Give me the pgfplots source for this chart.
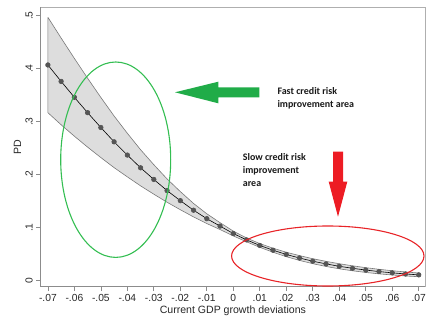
\documentclass[border=0pt]{standalone}
\usepackage{pgfplots}
\pgfplotsset{compat=1.18}
\usepackage{fontspec}
\setmainfont{Liberation Sans}
\newfontfamily\calib{Carlito}
\definecolor{bandfill}{RGB}{221,221,221}
\definecolor{bandedge}{RGB}{120,120,120}
\definecolor{markc}{RGB}{85,85,85}
\definecolor{gell}{RGB}{52,190,82}
\definecolor{garr}{RGB}{32,172,72}
\definecolor{rell}{RGB}{232,36,40}
\definecolor{rarr}{RGB}{237,28,36}
\definecolor{spine}{RGB}{140,140,140}
\definecolor{frame}{RGB}{175,175,175}
\begin{document}
\begin{tikzpicture}[x=1bp,y=1bp]
\useasboundingbox (0,0) rectangle (428,320);
\begin{axis}[
  at={(40.7bp,33.3bp)}, anchor=south west,
  scale only axis, width=384.3bp, height=279.4bp,
  xmin=-0.07271, xmax=0.07237, ymin=-0.01132, ymax=0.5158,
  axis x line*=bottom, axis y line*=left,
  axis line style={spine, line width=0.7pt},
  clip=false,
  scaled x ticks=false, scaled y ticks=false,
  tick align=outside, major tick length=4.5bp,
  tick style={spine, line width=0.7pt},
  xtick={-0.07,-0.06,-0.05,-0.04,-0.03,-0.02,-0.01,0,0.01,0.02,0.03,0.04,0.05,0.06,0.07},
  xticklabels={-.07,-.06,-.05,-.04,-.03,-.02,-.01,0,.01,.02,.03,.04,.05,.06,.07},
  ytick={0,0.1,0.2,0.3,0.4,0.5},
  yticklabels={0,.1,.2,.3,.4,.5},
  ticklabel style={font=\fontsize{10.3}{12}\selectfont, text=black!85},
  yticklabel style={rotate=90, anchor=south},
  xlabel={Current GDP growth deviations},
  ylabel={PD},
  label style={font=\fontsize{10.6}{12}\selectfont, text=black!85},
  xlabel style={at={(ticklabel cs:0.5)}, anchor=north, yshift=2.5bp},
  ylabel style={at={(ticklabel cs:0.5)}, anchor=south, rotate=0, yshift=-2.5bp},
]
\draw[frame, line width=0.7pt] (rel axis cs:0,1) -- (rel axis cs:1,1) -- (rel axis cs:1,0);
\addplot[fill=bandfill, draw=bandedge, line width=0.6pt] coordinates {
(-0.070,0.4970) (-0.065,0.4578) (-0.060,0.4194) (-0.055,0.3820) (-0.050,0.3457) (-0.045,0.3107) (-0.040,0.2781) (-0.035,0.2471) (-0.030,0.2188) (-0.025,0.1920) (-0.020,0.1681) (-0.015,0.1457) (-0.010,0.1262) (-0.005,0.1095) (0,0.0935) (0.005,0.0806) (0.010,0.0700) (0.015,0.0613) (0.020,0.0537) (0.025,0.0473) (0.030,0.0415) (0.035,0.0365) (0.040,0.0320) (0.045,0.0281) (0.050,0.0246) (0.055,0.0215) (0.060,0.0188) (0.065,0.0165) (0.070,0.0145)
(0.070,0.0075) (0.065,0.0089) (0.060,0.0108) (0.055,0.0129) (0.050,0.0156) (0.045,0.0187) (0.040,0.0224) (0.035,0.0269) (0.030,0.0321) (0.025,0.0383) (0.020,0.0453) (0.015,0.0537) (0.010,0.0630) (0.005,0.0734) (0,0.0845) (-0.005,0.0965) (-0.010,0.1078) (-0.015,0.1203) (-0.020,0.1339) (-0.025,0.1480) (-0.030,0.1632) (-0.035,0.1789) (-0.040,0.1959) (-0.045,0.2133) (-0.050,0.2323) (-0.055,0.2520) (-0.060,0.2726) (-0.065,0.2942) (-0.070,0.3170) (-0.070,0.4970)
};
\addplot[black, line width=0.6pt, mark=*, mark size=2.3bp, mark options={fill=markc, draw=markc}] coordinates {
(-0.070,0.407) (-0.065,0.376) (-0.060,0.346) (-0.055,0.317) (-0.050,0.289) (-0.045,0.262) (-0.040,0.237) (-0.035,0.213) (-0.030,0.191) (-0.025,0.170) (-0.020,0.151) (-0.015,0.133) (-0.010,0.117) (-0.005,0.103) (0,0.089) (0.005,0.077) (0.010,0.0665) (0.015,0.0575) (0.020,0.0495) (0.025,0.0428) (0.030,0.0368) (0.035,0.0317) (0.040,0.0272) (0.045,0.0234) (0.050,0.0201) (0.055,0.0172) (0.060,0.0148) (0.065,0.0127) (0.070,0.0110)
};
\end{axis}
% annotations (pixel-based positions)
\draw[gell, line width=1.1bp] (115.7,160.3) ellipse [x radius=55, y radius=97.7];
\draw[rell, line width=1.1bp] (327.8,64) ellipse [x radius=96.2, y radius=30];
\fill[garr] (175,227.7) -- (218.3,238.3) -- (218.3,232.7) -- (259.3,232.7) -- (259.3,222.7) -- (218.3,222.7) -- (218.3,216.7) -- cycle;
\fill[rarr] (333,168.3) -- (343,168.3) -- (343,138.3) -- (347.3,138.3) -- (338,103.3) -- (328.7,138.3) -- (333,138.3) -- cycle;
\begin{scope}[every node/.style={anchor=base west, inner sep=0pt, text=black!90, font=\calib\bfseries\fontsize{10}{12}\selectfont}]
\node at (277.3,225.7) {Fast credit risk};
\node at (277.3,212.3) {improvement area};
\node at (242.7,160) {Slow credit risk};
\node at (242.7,146.7) {improvement};
\node at (242.7,133.3) {area};
\end{scope}
\end{tikzpicture}
\end{document}
